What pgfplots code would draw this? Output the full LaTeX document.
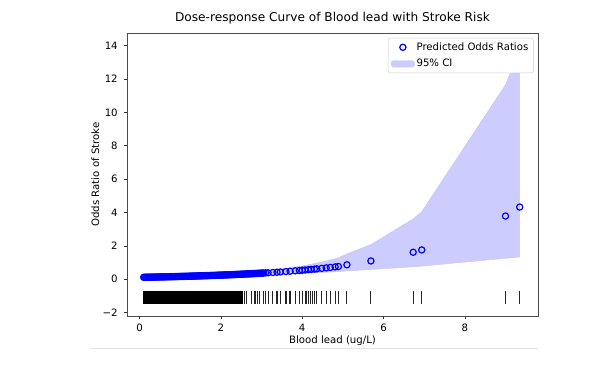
\documentclass[border=0pt]{standalone}
\usepackage{pgfplots}
\pgfplotsset{compat=1.18}
\usepgfplotslibrary{fillbetween}
\usepackage{fontspec}
\setmainfont{DejaVu Sans}
\definecolor{ciblue}{RGB}{204,204,255}
\definecolor{mplblue}{RGB}{0,0,255}
\newcommand{\lbl}{\fontsize{10.2}{12}\selectfont}
\begin{document}
\begin{tikzpicture}
\draw[black!10, line width=0.8bp] (90bp,22bp) -- (538bp,22bp);
\begin{axis}[
  at={(127bp,54bp)}, anchor=south west,
  scale only axis, width=411bp, height=283bp,
  xmin=-0.31, xmax=9.80, ymin=-2.2, ymax=14.76,
  xtick={0,2,4,6,8}, xticklabels={0,2,4,6,8},
  ytick={-2,0,2,4,6,8,10,12,14},
  yticklabels={−2,0,2,4,6,8,10,12,14},
  xtick pos=lower, ytick pos=left,
  tick align=outside, major tick length=2.8bp,
  tick style={black!80, line width=0.6bp},
  axis line style={black!70, line width=0.7bp},
  ticklabel style={font=\lbl},
  yticklabel style={xshift=-3bp},
  xticklabel style={yshift=-1.5bp},
  /pgf/number format/assume math mode=true,
  title={Dose-response Curve of Blood lead with Stroke Risk},
  title style={font=\fontsize{12.2}{14}\selectfont, at={(axis description cs:0.5,1.0212)}, anchor=base},
  xlabel={Blood lead (ug/L)},
  xlabel style={font=\lbl, at={(axis description cs:0.5,-0.0989)}, anchor=base},
  ylabel={Odds Ratio of Stroke},
  ylabel style={font=\lbl, at={(axis description cs:-0.0681,0.5)}, anchor=base},
  legend style={at={(1,1)}, anchor=north east, xshift=-4.5bp, yshift=-5bp,
    draw=black!20, rounded corners=2bp, font=\lbl, inner xsep=3bp, inner ysep=2.5bp,
    row sep=3.5bp, cells={anchor=west}},
  legend cell align=left,
  clip=false,
]
% 95% CI band
\addplot[name path=up, draw=none, forget plot] coordinates {
(0.1,0.142)(0.5,0.158)(1.0,0.181)(1.5,0.217)(2.0,0.279)(2.5,0.362)(3.0,0.472)
(3.5,0.614)(4.0,0.80)(4.5,1.04)(4.89,1.29)(5.1,1.52)(5.69,2.08)(6.73,3.62)
(6.94,4.05)(9.0,11.65)(9.35,13.75)};
\addplot[name path=lo, draw=none, forget plot] coordinates {
(0.1,0.101)(0.5,0.124)(1.0,0.160)(1.5,0.196)(2.0,0.224)(2.5,0.255)(3.0,0.288)
(3.5,0.326)(4.0,0.368)(4.5,0.416)(4.89,0.46)(5.1,0.505)(5.69,0.586)(6.73,0.75)
(6.94,0.79)(9.0,1.26)(9.35,1.34)};
\addplot[fill=ciblue, draw=blue!22, line width=0.5bp, forget plot] fill between[of=up and lo];
% rug: dense part
\addplot[only marks, mark=|, mark size=6.6bp, black, forget plot, mark options={line width=2.4bp}] coordinates {
(0.12,-1.08)(0.17,-1.08)(0.22,-1.08)(0.27,-1.08)(0.32,-1.08)(0.37,-1.08)(0.42,-1.08)(0.47,-1.08)
(0.52,-1.08)(0.57,-1.08)(0.62,-1.08)(0.67,-1.08)(0.72,-1.08)(0.77,-1.08)(0.82,-1.08)(0.87,-1.08)
(0.92,-1.08)(0.97,-1.08)(1.02,-1.08)(1.07,-1.08)(1.12,-1.08)(1.17,-1.08)(1.22,-1.08)(1.27,-1.08)
(1.32,-1.08)(1.37,-1.08)(1.42,-1.08)(1.47,-1.08)(1.52,-1.08)(1.57,-1.08)(1.62,-1.08)(1.67,-1.08)
(1.72,-1.08)(1.77,-1.08)(1.82,-1.08)(1.87,-1.08)(1.92,-1.08)(1.97,-1.08)(2.02,-1.08)};
\addplot[only marks, mark=|, mark size=6.6bp, black, forget plot, mark options={line width=1.7bp}] coordinates {
(2.07,-1.08)(2.12,-1.08)(2.17,-1.08)(2.22,-1.08)(2.27,-1.08)(2.32,-1.08)(2.37,-1.08)(2.42,-1.08)
(2.47,-1.08)(2.52,-1.08)};
% rug: sparse part
\addplot[only marks, mark=|, mark size=6.6bp, black!85, forget plot, mark options={line width=1.1bp}] coordinates {
(2.57,-1.08)(2.64,-1.08)(2.75,-1.08)(2.82,-1.08)(2.86,-1.08)(2.90,-1.08)(2.94,-1.08)(3.05,-1.08)
(3.10,-1.08)(3.16,-1.08)(3.28,-1.08)(3.38,-1.08)(3.46,-1.08)(3.60,-1.08)(3.70,-1.08)(3.83,-1.08)
(3.93,-1.08)(4.00,-1.08)(4.07,-1.08)(4.11,-1.08)(4.15,-1.08)(4.20,-1.08)(4.25,-1.08)(4.30,-1.08)
(4.36,-1.08)(4.48,-1.08)(4.59,-1.08)(4.69,-1.08)(4.81,-1.08)(4.89,-1.08)(5.10,-1.08)(5.69,-1.08)
(6.73,-1.08)(6.94,-1.08)(9.00,-1.08)(9.35,-1.08)};
% predicted odds ratios
\addplot[only marks, mark=o, mark size=3.1bp, mplblue, mark options={line width=1.2bp},
  legend image code/.code={\draw[mark repeat=2,mark phase=2] plot coordinates {(0bp,0bp)(11.5bp,0bp)(23bp,0bp)};}] coordinates {
(0.10,0.1200)(0.15,0.1223)(0.20,0.1247)(0.25,0.1271)(0.30,0.1297)(0.35,0.1322)(0.40,0.1348)
(0.45,0.1374)(0.50,0.1401)(0.55,0.1428)(0.60,0.1456)(0.65,0.1484)(0.70,0.1514)(0.75,0.1544)
(0.80,0.1573)(0.85,0.1604)(0.90,0.1635)(0.95,0.1667)(1.00,0.1700)(1.05,0.1733)(1.10,0.1767)
(1.15,0.1802)(1.20,0.1837)(1.25,0.1873)(1.30,0.1909)(1.35,0.1946)(1.40,0.1984)(1.45,0.2023)
(1.50,0.2063)(1.55,0.2103)(1.60,0.2144)(1.65,0.2186)(1.70,0.2229)(1.75,0.2273)(1.80,0.2317)
(1.85,0.2362)(1.90,0.2408)(1.95,0.2455)(2.00,0.2503)(2.05,0.2552)(2.10,0.2602)(2.15,0.2653)
(2.20,0.2705)(2.25,0.2758)(2.30,0.2811)(2.35,0.2866)(2.40,0.2922)(2.45,0.2979)(2.50,0.3038)
(2.55,0.3097)(2.60,0.3157)(2.65,0.3219)(2.70,0.3282)(2.75,0.3346)(2.80,0.3411)(2.85,0.3478)
(2.90,0.3546)(2.95,0.3615)(3.00,0.3686)(3.05,0.3758)(3.10,0.3831)(3.16,0.390)(3.28,0.409)
(3.38,0.424)(3.46,0.440)(3.60,0.465)(3.70,0.483)(3.83,0.508)(3.93,0.528)(4.00,0.543)
(4.07,0.558)(4.15,0.575)(4.22,0.591)(4.30,0.610)(4.36,0.624)(4.48,0.654)(4.59,0.683)
(4.69,0.710)(4.81,0.743)(4.89,0.766)(5.10,0.87)(5.69,1.10)(6.73,1.62)(6.94,1.76)
(9.00,3.79)(9.35,4.33)
(0.125,0.1212)(0.175,0.1235)(0.225,0.1259)(0.275,0.1283)(0.325,0.1310)(0.375,0.1335)
(0.425,0.1361)(0.475,0.1387)(0.525,0.1415)(0.575,0.1442)(0.625,0.1470)(0.675,0.1498)
(0.725,0.1529)(0.775,0.1559)(0.825,0.1588)(0.875,0.1620)(0.925,0.1651)(0.975,0.1683)
(1.025,0.1717)(1.075,0.1750)(1.125,0.1784)(1.175,0.1820)(1.225,0.1855)(1.275,0.1891)
(1.325,0.1928)(1.375,0.1965)(1.425,0.2003)(1.475,0.2043)(1.525,0.2083)(1.575,0.2123)
(1.625,0.2165)(1.675,0.2207)(1.725,0.2251)(1.775,0.2295)(1.825,0.2340)(1.875,0.2385)
(1.925,0.2431)(1.975,0.2479)(2.025,0.2527)(2.075,0.2577)(2.125,0.2627)(2.175,0.2679)
(2.225,0.2731)(2.275,0.2785)(2.325,0.2838)(2.375,0.2894)(2.425,0.2950)(2.475,0.3008)
(2.525,0.3068)(2.575,0.3127)(2.625,0.3188)(2.675,0.3250)(2.725,0.3314)(2.775,0.3379)
(2.825,0.3444)(2.875,0.3512)(2.925,0.3580)(2.975,0.3650)(3.025,0.3722)};
\addlegendentry{Predicted Odds Ratios}
\addlegendimage{legend image code/.code={\fill[ciblue] (0bp,-3.2bp) rectangle (23bp,3.2bp);}}
\addlegendentry{95\% CI}
\end{axis}
\path (0,0) rectangle (591bp,370bp);
\end{tikzpicture}
\end{document}
